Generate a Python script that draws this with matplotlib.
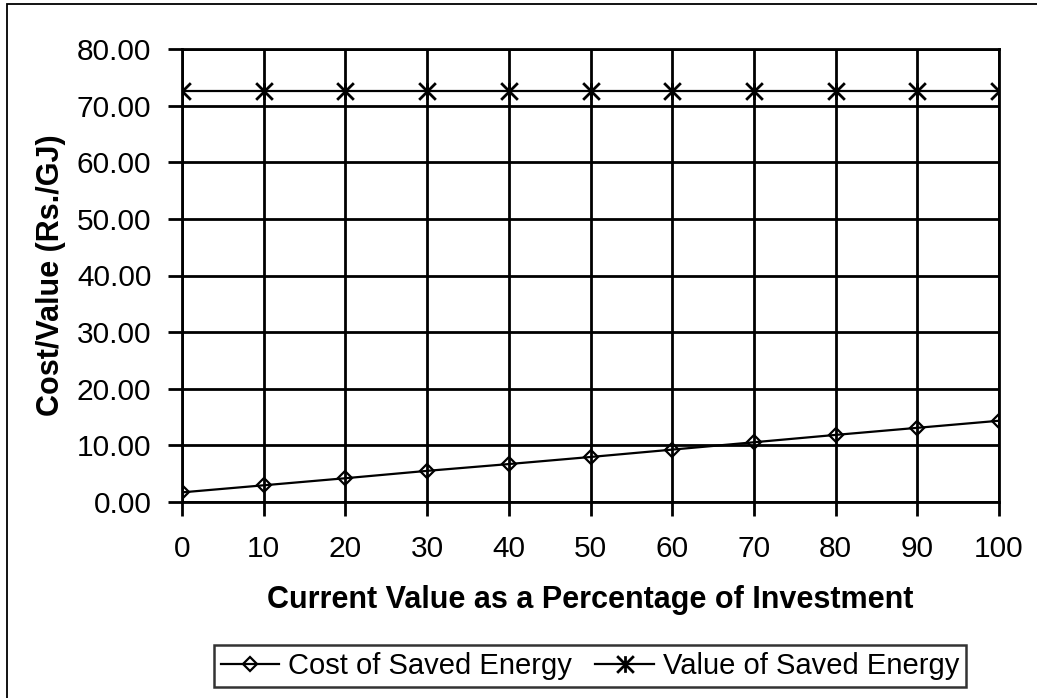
import matplotlib.pyplot as plt
from matplotlib.patches import Rectangle
from matplotlib.path import Path

plt.rcParams['font.family'] = ['Liberation Sans', 'DejaVu Sans']

# data
pct = [0, 10, 20, 30, 40, 50, 60, 70, 80, 90, 100]
cost_saved = [1.70, 2.95, 4.20, 5.50, 6.70, 7.95, 9.25, 10.55, 11.85, 13.10, 14.35]
value_saved = [72.5, 72.5, 72.5, 72.5, 72.5, 72.5, 72.5, 72.5, 72.5, 72.5, 72.5]
y_ticks = [0, 10, 20, 30, 40, 50, 60, 70, 80]

# Excel-style star marker: an x with a vertical bar
star = Path([(-1, -1), (1, 1), (-1, 1), (1, -1), (0, -1), (0, 1)],
            [Path.MOVETO, Path.LINETO, Path.MOVETO, Path.LINETO, Path.MOVETO, Path.LINETO])

fig = plt.figure(figsize=(10.37, 6.98), dpi=100)
ax = fig.add_axes([182 / 1037, 1 - 502 / 698, (999 - 182) / 1037, (502 - 49) / 698])

# outer chart border (only left/top visible in the crop)
fig.patches.append(Rectangle((7 / 1037, -0.1), 1.2, 1 - 4 / 698 + 0.1,
                             transform=fig.transFigure, fill=False,
                             edgecolor='black', linewidth=1.3))

ax.plot(pct, cost_saved, color='black', linewidth=1.6, marker='D', markersize=7,
        markerfacecolor='none', markeredgecolor='black', markeredgewidth=1.6,
        label='Cost of Saved Energy', zorder=3)
ax.plot(pct, value_saved, color='black', linewidth=1.6, marker=star, markersize=12,
        markeredgewidth=2, label='Value of Saved Energy', zorder=3)

ax.set_xlim(0, 100)
ax.set_ylim(0, 80)
ax.set_xticks(pct)
ax.set_yticks(y_ticks)
ax.set_yticklabels([f'{v:.2f}' for v in y_ticks])
ax.grid(True, color='black', linewidth=2)
ax.tick_params(axis='both', labelsize=21.5, length=10, width=2, direction='out')
ax.tick_params(axis='x', pad=14)
ax.tick_params(axis='y', pad=12)
for s in ax.spines.values():
    s.set_linewidth(2)

ax.set_xlabel('Current Value as a Percentage of Investment', fontsize=22,
              fontweight='bold')
ax.set_ylabel('Cost/Value (Rs./GJ)', fontsize=22, fontweight='bold')
ax.xaxis.set_label_coords(0.5, (502 - 600) / 453)
ax.xaxis.label.set_va('center')
ax.yaxis.set_label_coords((51 - 182) / 817, 0.5)
ax.yaxis.label.set_va('center')

leg = fig.legend(loc='center', bbox_to_anchor=(590 / 1037, 1 - 666 / 698), ncol=2,
                 fontsize=21, frameon=True, fancybox=False, handlelength=2.0,
                 handletextpad=0.3, columnspacing=0.8, borderpad=0.25)
leg.get_frame().set_edgecolor('black')
leg.get_frame().set_linewidth(1.8)

fig.savefig('out.png', dpi=100)
